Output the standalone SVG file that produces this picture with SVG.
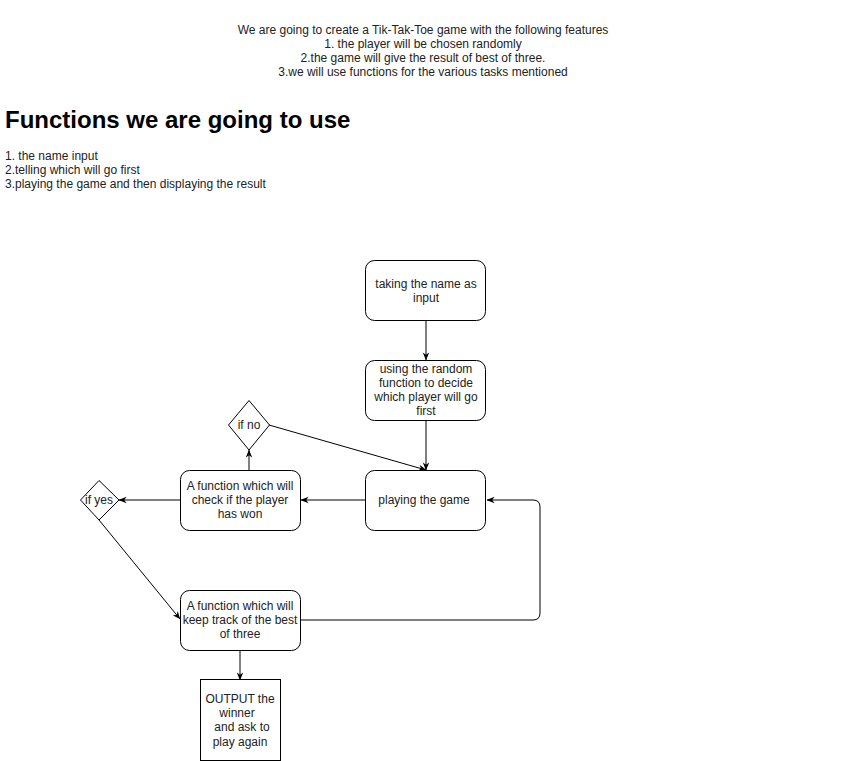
<svg xmlns="http://www.w3.org/2000/svg" width="851" height="761" viewBox="0 0 851 761">
<defs>
<marker id="arr" viewBox="0 0 10 10" refX="9.5" refY="5" markerWidth="8" markerHeight="8" markerUnits="userSpaceOnUse" orient="auto">
<path d="M0,1 L10,5 L0,9 L3,5 Z" fill="#000"/>
</marker>
</defs>
<style>
text{font-family:"Liberation Sans",Arial,Helvetica,sans-serif;font-size:12px;fill:#222}
.c{text-anchor:middle}
.box{fill:#fff;stroke:#000;stroke-width:1}
.edge{fill:none;stroke:#000;stroke-width:1;marker-end:url(#arr)}
</style>
<rect width="851" height="761" fill="#fff"/>
<g id="intro">
<text class="c" x="423" y="34">We are going to create a Tik-Tak-Toe game with the following features</text>
<text class="c" x="423" y="48">1. the player will be chosen randomly</text>
<text class="c" x="423" y="62">2.the game will give the result of best of three.</text>
<text class="c" x="423" y="76">3.we will use functions for the various tasks mentioned</text>
</g>
<g id="heading">
<text x="5" y="128" style="font-size:24px;font-weight:bold;fill:#000">Functions we are going to use</text>
</g>
<g id="list">
<text x="5" y="160">1. the name input</text>
<text x="5" y="174">2.telling which will go first</text>
<text x="5" y="188">3.playing the game and then displaying the result</text>
</g>
<g id="connectors">
<path class="edge" d="M426,320 L426,360"/>
<path class="edge" d="M426,420 L426,470"/>
<path class="edge" d="M269,425 L426,470"/>
<path class="edge" d="M365,500 L301,500"/>
<path class="edge" d="M249,470 L249,450"/>
<path class="edge" d="M180,500 L119,500"/>
<path class="edge" d="M99,520 L180,619"/>
<path class="edge" d="M301,620 L533,620 Q540,620 540,613 L540,507 Q540,500 533,500 L487,500"/>
<path class="edge" d="M240,650 L240,680"/>
</g>
<g id="n1">
<rect class="box" x="365.5" y="260.5" width="120" height="60" rx="9"/>
<text class="c" x="426" y="288">taking the name as</text>
<text class="c" x="426" y="302">input</text>
</g>
<g id="n2">
<rect class="box" x="365.5" y="360.5" width="120" height="60" rx="9"/>
<text class="c" x="426" y="373">using the random</text>
<text class="c" x="426" y="387">function to decide</text>
<text class="c" x="426" y="401">which player will go</text>
<text class="c" x="426" y="415">first</text>
</g>
<g id="n3">
<rect class="box" x="365.5" y="470.5" width="120" height="60" rx="9"/>
<text class="c" x="424" y="504">playing the game</text>
</g>
<g id="n4">
<rect class="box" x="180.5" y="470.5" width="120" height="60" rx="9"/>
<text class="c" x="240" y="490">A function which will</text>
<text class="c" x="240" y="504">check if the player</text>
<text class="c" x="240" y="518">has won</text>
</g>
<g id="ifno">
<polygon class="box" points="249,400.5 269.5,425 249,450 228.5,425"/>
<text class="c" x="249" y="429">if no</text>
</g>
<g id="ifyes">
<polygon class="box" points="99,480.5 119,500 99,520 80.5,500"/>
<text class="c" x="99" y="504">if yes</text>
</g>
<g id="n5">
<rect class="box" x="180.5" y="590.5" width="120" height="60" rx="9"/>
<text class="c" x="240" y="610">A function which will</text>
<text class="c" x="240" y="624">keep track of the best</text>
<text class="c" x="240" y="638">of three</text>
</g>
<g id="n6">
<rect class="box" x="200.5" y="679.5" width="80" height="81"/>
<text class="c" x="240" y="703">OUTPUT the</text>
<text class="c" x="237" y="717">winner</text>
<text class="c" x="242" y="731">and ask to</text>
<text class="c" x="240" y="746">play again</text>
</g>
</svg>
